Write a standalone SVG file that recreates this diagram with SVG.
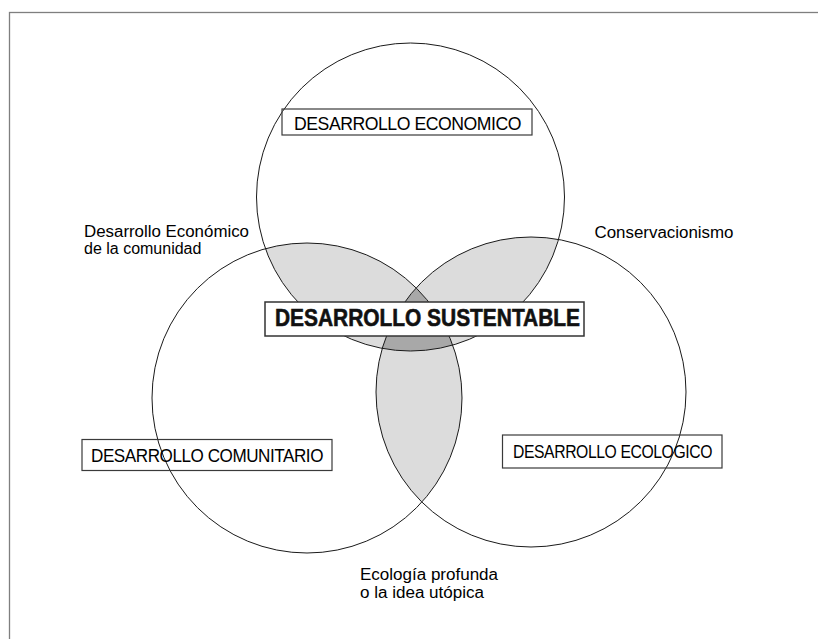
<svg xmlns="http://www.w3.org/2000/svg" width="818" height="639" viewBox="0 0 818 639">
<style>
.c{fill:none;stroke:#1a1a1a;stroke-width:1}
.box{fill:none;stroke:#3a3a3a;stroke-width:1.2}
.bt{font-family:"Liberation Sans",Arial,sans-serif;font-size:19px;fill:#000;letter-spacing:-0.5px}
.lt{font-family:"Liberation Sans",Arial,sans-serif;font-size:16px;fill:#000}
.light{fill:#dcdcdc}
.dark{fill:#a8a8a8}
</style>
<defs>
<circle id="cTop" cx="410.5" cy="197" r="154"/>
<circle id="cLeft" cx="307" cy="398" r="155"/>
<circle id="cRight" cx="531" cy="392" r="155"/>
<clipPath id="clipTop"><use href="#cTop"/></clipPath>
<clipPath id="clipLeft"><use href="#cLeft"/></clipPath>
<clipPath id="clipRight"><use href="#cRight"/></clipPath>
</defs>
<rect width="818" height="639" fill="#fff"/>
<rect id="frame" x="9.5" y="12.5" width="900" height="700" fill="none" stroke="#7f7f7f" stroke-width="1.3"/>
<g id="shading">
<g clip-path="url(#clipTop)"><use href="#cLeft" class="light"/><use href="#cRight" class="light"/></g>
<g clip-path="url(#clipLeft)"><use href="#cRight" class="light"/></g>
<g clip-path="url(#clipTop)"><g clip-path="url(#clipLeft)"><use href="#cRight" class="dark"/></g></g>
</g>
<g id="circle-economico"><use href="#cTop" class="c"/></g>
<g id="circle-comunitario"><use href="#cLeft" class="c"/></g>
<g id="circle-ecologico"><use href="#cRight" class="c"/></g>
<g id="node-economico">
<rect class="box" x="282" y="109" width="250" height="26"/>
<text class="bt" x="294" y="130" font-size="20" textLength="227" lengthAdjust="spacingAndGlyphs">DESARROLLO ECONOMICO</text>
</g>
<g id="node-comunitario">
<rect class="box" x="82" y="439.5" width="250" height="31"/>
<text class="bt" x="91" y="461.5" textLength="232" lengthAdjust="spacingAndGlyphs">DESARROLLO COMUNITARIO</text>
</g>
<g id="node-ecologico">
<rect class="box" x="502.5" y="435" width="219.5" height="33"/>
<text class="bt" x="513" y="457.5" textLength="199" lengthAdjust="spacingAndGlyphs">DESARROLLO ECOLOGICO</text>
</g>
<g id="node-sustentable">
<rect x="265" y="302" width="319" height="34" fill="#fff" stroke="#333" stroke-width="1.5"/>
<text x="275" y="326" font-family="'Liberation Sans',Arial,sans-serif" font-weight="bold" font-size="24" textLength="305" lengthAdjust="spacingAndGlyphs" fill="#111" stroke="#111" stroke-width="0.6">DESARROLLO SUSTENTABLE</text>
</g>
<g id="label-economico-comunidad">
<text class="lt" x="84" y="236.5" textLength="165" lengthAdjust="spacingAndGlyphs">Desarrollo Económico</text>
<text class="lt" x="84" y="253.5">de la comunidad</text>
</g>
<g id="label-conservacionismo">
<text class="lt" x="594.5" y="237.5" textLength="139" lengthAdjust="spacingAndGlyphs">Conservacionismo</text>
</g>
<g id="label-ecologia-profunda">
<text class="lt" x="360" y="580" textLength="138" lengthAdjust="spacingAndGlyphs">Ecología profunda</text>
<text class="lt" x="360" y="597.5" textLength="124" lengthAdjust="spacingAndGlyphs">o la idea utópica</text>
</g>
<g id="connectors"></g>
</svg>
